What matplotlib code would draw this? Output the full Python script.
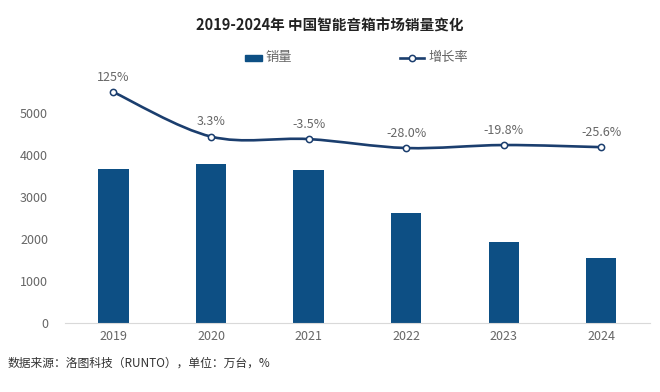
import numpy as np
import matplotlib
matplotlib.use('Agg')
import matplotlib.pyplot as plt
from matplotlib.path import Path
from matplotlib.patches import PathPatch, Rectangle
from matplotlib.lines import Line2D

plt.rcParams['font.family'] = ['Noto Sans CJK SC', 'DejaVu Sans']

# Data
years = ['2019', '2020', '2021', '2022', '2023', '2024']
sales = [3660, 3790, 3640, 2630, 1925, 1555]          # 万台
growth = [125, 3.3, -3.5, -28.0, -19.8, -25.6]        # %
growth_labels = ['125%', '3.3%', '-3.5%', '-28.0%', '-19.8%', '-25.6%']

bar_color = '#0d4f84'
line_color = '#1b3e6e'
gray = '#666666'

fig = plt.figure(figsize=(6.6, 3.92), dpi=100)
ax = fig.add_axes([0.098, 0.176, 0.887, 0.643])
x = np.arange(len(years))

ax.bar(x, sales, width=0.31, color=bar_color, zorder=2)
ax.set_xlim(-0.5, len(years) - 0.5)
ax.set_ylim(0, 6000)
ax.set_yticks([0, 1000, 2000, 3000, 4000, 5000])
ax.set_xticks(x)
ax.set_xticklabels(years)
ax.tick_params(axis='both', length=0, labelsize=9, colors=gray)
ax.tick_params(axis='y', pad=12)
ax.tick_params(axis='x', pad=5)
for s in ['top', 'right', 'left']:
    ax.spines[s].set_visible(False)
ax.spines['bottom'].set_color('#d9d9d9')

# secondary axis for growth line (hidden)
ax2 = ax.twinx()
ax2.set_ylim(-507, 183)
ax2.axis('off')

# smooth curve through the points (Catmull-Rom -> cubic Bezier)
pts = np.column_stack([x, growth]).astype(float)
verts = [tuple(pts[0])]
codes = [Path.MOVETO]
for i in range(len(pts) - 1):
    p0 = pts[i - 1] if i > 0 else pts[i]
    p1 = pts[i]
    p2 = pts[i + 1]
    p3 = pts[i + 2] if i + 2 < len(pts) else pts[i + 1]
    c1 = p1 + (p2 - p0) / 6
    c2 = p2 - (p3 - p1) / 6
    verts += [tuple(c1), tuple(c2), tuple(p2)]
    codes += [Path.CURVE4] * 3
ax2.add_patch(PathPatch(Path(verts, codes), facecolor='none',
                        edgecolor=line_color, lw=1.9, zorder=3))
ax2.plot(x, growth, ls='none', marker='o', ms=4.5, mfc='white',
         mec=line_color, mew=1.1, zorder=4)
for xi, g, lab in zip(x, growth, growth_labels):
    ax2.annotate(lab, (xi, g), xytext=(0, 6), textcoords='offset points',
                 ha='center', va='bottom', fontsize=9, color=gray)

# title
fig.text(0.5, 0.935, '2019-2024年 中国智能音箱市场销量变化', ha='center',
         va='center', fontsize=10.5, fontweight='bold', color='#222222')

# legend
fig.patches.append(Rectangle((245 / 660, 1 - 61 / 392), 17 / 660, 6 / 392,
                             transform=fig.transFigure, color=bar_color))
fig.text(265 / 660, 1 - 58 / 392, '销量', va='center', fontsize=9.5, color=gray)
fig.lines.append(Line2D([400 / 660, 424 / 660], [1 - 58 / 392] * 2,
                        transform=fig.transFigure, color=line_color, lw=1.9))
fig.lines.append(Line2D([412 / 660], [1 - 58 / 392], transform=fig.transFigure,
                        marker='o', ms=4.5, mfc='white', mec=line_color, mew=1.1))
fig.text(428 / 660, 1 - 58 / 392, '增长率', va='center', fontsize=9.5, color=gray)

# source
fig.text(8 / 660, 1 - 363 / 392, '数据来源：洛图科技（RUNTO），单位：万台，%',
         va='center', fontsize=8.5, color='#333333')

fig.savefig('out.png', dpi=100, facecolor='white')
